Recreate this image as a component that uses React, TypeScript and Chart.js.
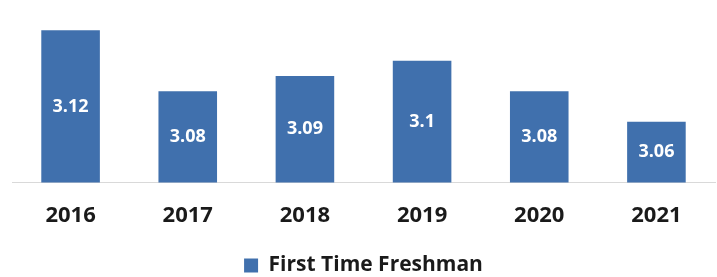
import React, { useEffect, useRef } from "react";
import { Chart, registerables } from "chart.js";

Chart.register(...registerables);

const categories = ["2016", "2017", "2018", "2019", "2020", "2021"];
const gpaValues = [3.12, 3.08, 3.09, 3.1, 3.08, 3.06];
const seriesName = "First Time Freshman";

const barLabels = {
  id: "barLabels",
  afterDatasetsDraw(chart: any) {
    const ctx = chart.ctx;
    const meta = chart.getDatasetMeta(0);
    ctx.save();
    ctx.fillStyle = "#ffffff";
    ctx.font = "bold 18px 'Open Sans', sans-serif";
    ctx.textAlign = "center";
    ctx.textBaseline = "middle";
    meta.data.forEach((el: any, i: number) => {
      const p = el.getProps(["x", "y"], true);
      const base = chart.scales.y.bottom;
      const y = (p.y + base) / 2;
      ctx.fillText(String(gpaValues[i]), p.x, y);
    });
    ctx.restore();
  },
};

export default function App() {
  const ref = useRef<HTMLCanvasElement | null>(null);
  useEffect(() => {
    if (!ref.current) return;
    const chart = new Chart(ref.current, {
      type: "bar",
      data: {
        labels: categories,
        datasets: [
          {
            label: seriesName,
            data: gpaValues,
            backgroundColor: "#4070AD",
            barPercentage: 0.5,
            categoryPercentage: 1,
          },
        ],
      },
      options: {
        animation: false,
        responsive: true,
        maintainAspectRatio: false,
        layout: { padding: { left: 12, right: 2, top: 15, bottom: -9 } },
        scales: {
          y: { display: false, min: 3.02, max: 3.13 },
          x: {
            grid: { display: false },
            border: { display: true, color: "#d9d9d9", width: 1 },
            ticks: {
              padding: 12,
              color: "#1a1a1a",
              font: { family: "'Open Sans'", size: 22, weight: "bold" },
            },
          },
        },
        plugins: {
          tooltip: { enabled: false },
          legend: {
            position: "bottom",
            labels: {
              boxWidth: 14,
              boxHeight: 14,
              padding: 14,
              color: "#1a1a1a",
              font: { family: "'Open Sans'", size: 21, weight: "bold" },
            },
          },
        },
      },
      plugins: [barLabels],
    });
    return () => chart.destroy();
  }, []);
  return (
    <div style={{ position: "fixed", left: 0, top: 0, width: 717, height: 277, background: "#fff" }}>
      <canvas ref={ref} />
    </div>
  );
}
